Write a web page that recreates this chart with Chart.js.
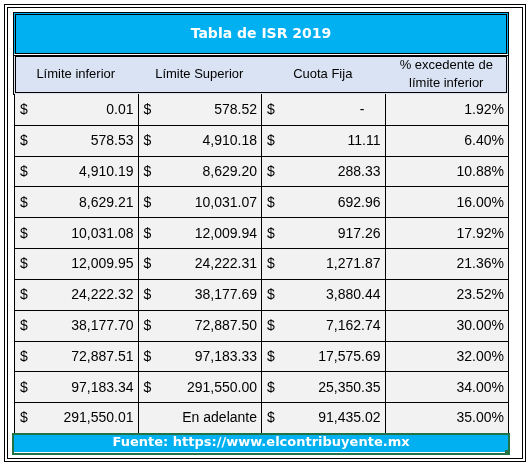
<!DOCTYPE html>
<html><head><meta charset="utf-8">
<script src="https://cdn.jsdelivr.net/npm/chart.js@4"></script>
<style>html,body{margin:0;padding:0;background:#fff}</style>
</head><body>
<canvas id="c" width="530" height="468"></canvas>
<script>
const title = "Tabla de ISR 2019";
const headers = ["Límite inferior", "Límite Superior", "Cuota Fija", ["% excedente de", "límite inferior"]];
const limiteInferior = ["0.01","578.53","4,910.19","8,629.21","10,031.08","12,009.95","24,222.32","38,177.70","72,887.51","97,183.34","291,550.01"];
const limiteSuperior = ["578.52","4,910.18","8,629.20","10,031.07","12,009.94","24,222.31","38,177.69","72,887.50","97,183.33","291,550.00","En adelante"];
const cuotaFija = ["-","11.11","288.33","692.96","917.26","1,271.87","3,880.44","7,162.74","17,575.69","25,350.35","91,435.02"];
const porcentaje = ["1.92%","6.40%","10.88%","16.00%","17.92%","21.36%","23.52%","30.00%","32.00%","34.00%","35.00%"];
const footer = "Fuente: https://www.elcontribuyente.mx";
const columns = [limiteInferior, limiteSuperior, cuotaFija, porcentaje];
const nRows = limiteInferior.length;

const pts = [];
columns.forEach((col, ci) => col.forEach((v, ri) => pts.push({x: ci + 0.5, y: ri + 0.5, ci, ri})));

const tablePlugin = {
  id: 'table',
  beforeDraw(chart) {
    const ctx = chart.ctx, xs = chart.scales.x, ys = chart.scales.y;
    const L = xs.getPixelForValue(0), R = xs.getPixelForValue(4);
    const T = ys.getPixelForValue(0), B = ys.getPixelForValue(nRows);
    ctx.save();
    ctx.fillStyle = '#fff'; ctx.fillRect(0, 0, 530, 468);
    ctx.strokeStyle = '#000'; ctx.lineWidth = 1;
    ctx.strokeRect(4.5, 4.5, 521, 457);
    ctx.strokeRect(7.5, 7.5, 515, 451);
    // title
    ctx.fillStyle = '#00b0f0'; ctx.fillRect(L, 13, R - L, 41);
    ctx.strokeRect(L - 0.5, 12.5, R - L + 1, 43);
    ctx.strokeRect(L + 1.5, 14.5, R - L - 3, 39);
    ctx.fillStyle = '#fff'; ctx.font = 'bold 14px "DejaVu Sans"';
    ctx.textAlign = 'center'; ctx.textBaseline = 'middle';
    ctx.fillText(title, (L + R) / 2, 34);
    // header
    ctx.fillStyle = '#dae3f3'; ctx.fillRect(L, 56, R - L, 38);
    ctx.strokeRect(L - 0.5, 55.5, R - L + 1, 39);
    ctx.strokeRect(L + 1.5, 56.5, R - L - 3, 36);
    ctx.fillStyle = '#000'; ctx.font = '13px "Liberation Sans"';
    headers.forEach((h, i) => {
      const cx = (xs.getPixelForValue(i) + xs.getPixelForValue(i + 1)) / 2;
      if (Array.isArray(h)) { ctx.fillText(h[0], cx, 65); ctx.fillText(h[1], cx, 83); }
      else ctx.fillText(h, cx, 74);
    });
    // body
    ctx.fillStyle = '#f2f2f2'; ctx.fillRect(L, T, R - L, B - T);
    ctx.strokeStyle = '#000'; ctx.lineWidth = 1;
    for (let r = 1; r < nRows; r++) {
      const y = Math.round(ys.getPixelForValue(r)) + 0.5;
      ctx.beginPath(); ctx.moveTo(L, y); ctx.lineTo(R, y); ctx.stroke();
    }
    for (let c = 0; c <= 4; c++) {
      const x = Math.round(xs.getPixelForValue(c)) + 0.5;
      ctx.beginPath(); ctx.moveTo(x, T); ctx.lineTo(x, B); ctx.stroke();
    }
    ctx.fillStyle = '#000';
    ctx.font = '14px "Liberation Sans"';
    pts.forEach(p => {
      const v = columns[p.ci][p.ri];
      const x0 = xs.getPixelForValue(p.ci), x1 = xs.getPixelForValue(p.ci + 1);
      const y = ys.getPixelForValue(p.y) + 1;
      if (p.ci < 3 && v !== 'En adelante') { ctx.textAlign = 'left'; ctx.fillText('$', x0 + 6, y); }
      ctx.textAlign = 'right';
      ctx.fillText(v, v === '-' ? x1 - 20 : x1 - 4, y);
    });
    // footer
    ctx.fillStyle = '#00b0f0'; ctx.fillRect(L, B + 1, R - L, 18);
    ctx.strokeStyle = '#217346'; ctx.lineWidth = 2;
    ctx.strokeRect(L - 1, B + 1, R - L + 2, 20);
    ctx.fillStyle = '#217346'; ctx.fillRect(R - 3, B + 17, 5, 5);
    ctx.fillStyle = '#fff'; ctx.font = 'bold 13px "DejaVu Sans"'; ctx.textAlign = 'center';
    ctx.fillText(footer, (L + R) / 2, B + 10);
    ctx.restore();
  }
};

new Chart(document.getElementById('c'), {
  type: 'scatter',
  data: { datasets: [{ data: pts, pointRadius: 0 }] },
  options: {
    responsive: false, animation: false, devicePixelRatio: 1,
    layout: { padding: { left: 14, right: 22, top: 94, bottom: 35 } },
    plugins: { legend: { display: false }, tooltip: { enabled: false } },
    scales: {
      x: { type: 'linear', min: 0, max: 4, display: false },
      y: { type: 'linear', min: 0, max: nRows, reverse: true, display: false }
    }
  },
  plugins: [tablePlugin]
});
</script>
</body></html>
